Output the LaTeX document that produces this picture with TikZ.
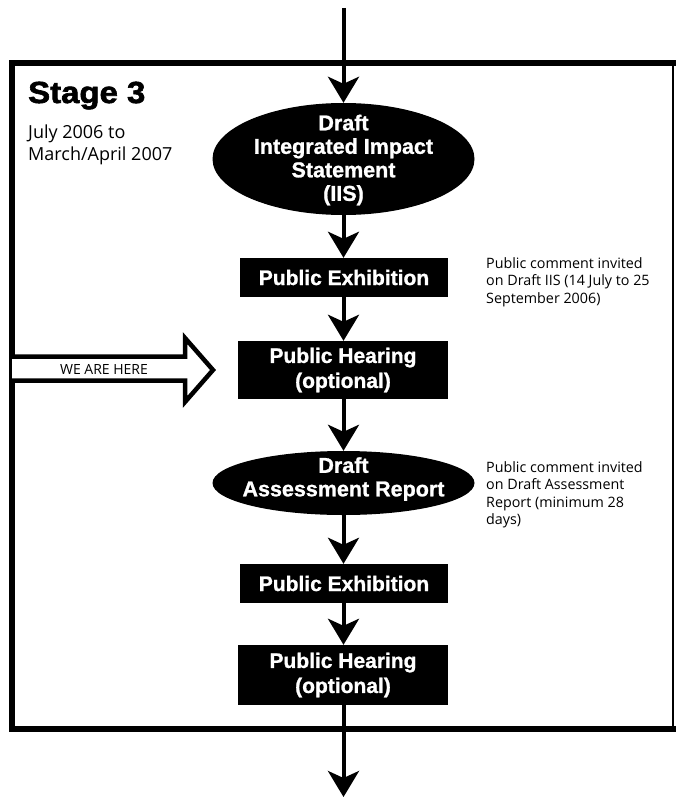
\documentclass[tikz,border=0pt]{standalone}
\usepackage{fontspec}
\setmainfont{Open Sans}
\newfontfamily\boxfont{Liberation Sans}[BoldFeatures={FakeBold=1.1}]
\newfontfamily\stagefont{Liberation Sans}[BoldFeatures={FakeBold=2,FakeStretch=1.08}]
\usetikzlibrary{arrows.meta,shapes.geometric}
\begin{document}
\begin{tikzpicture}[x=1pt,y=-1pt,
  flow/.style={line width=4pt,-{Stealth[length=26pt,width=31pt,inset=7pt]}},
  blackbox/.style={rectangle,fill=black,text=white,inner sep=0pt,align=center,
    font=\boxfont\bfseries\fontsize{21}{25}\selectfont},
  blackoval/.style={ellipse,fill=black,inner sep=0pt},
  ovaltext/.style={text=white,inner sep=0pt,align=center,
    font=\boxfont\bfseries\fontsize{21.5}{23.5}\selectfont},
  sidenote/.style={anchor=north west,inner sep=0pt,align=left,
    font=\fontsize{14.3}{17.5}\selectfont},
  framethin/.style={line width=1.5pt},
  framethick/.style={line width=5.5pt,line cap=rect},
  herearrow/.style={line width=4.5pt,fill=white,line join=miter}]
\useasboundingbox (0,0) rectangle (675,800);

% frame
\draw[framethin] (12,63) rectangle (673,729);
\draw[framethick] (12,729) -- (12,63) -- (673,63);
\draw[framethick] (12,729) -- (673,729);

% title and dates
\node[anchor=base west,inner sep=0pt,font=\stagefont\bfseries\fontsize{30.5}{30}\selectfont] (title) at (28,103) {Stage 3};
\node[anchor=north west,inner sep=0pt,align=left,font=\fontsize{18}{22}\selectfont] (dates) at (28,125) {July 2006 to\\March/April 2007};

% flow nodes
\node[blackoval,minimum width=262pt,minimum height=112pt] (e1) at (343.5,159) {};
\node[ovaltext] (e1t) at (343.5,160) {Draft\\Integrated Impact\\Statement\\(IIS)};

\node[blackbox,minimum width=208pt,minimum height=39pt] (b1) at (344,277.5) {Public Exhibition};
\node[blackbox,minimum width=210pt,minimum height=58pt] (b2) at (343,370) {Public Hearing\\(optional)};

\node[blackoval,minimum width=262pt,minimum height=64pt] (e2) at (343.5,483) {};
\node[ovaltext] (e2t) at (343.5,479) {Draft\\Assessment Report};

\node[blackbox,minimum width=208pt,minimum height=39pt] (b3) at (344,583.5) {Public Exhibition};
\node[blackbox,minimum width=210pt,minimum height=60pt] (b4) at (343,675) {Public Hearing\\(optional)};

% connectors
\coordinate (start) at (343.5,8);
\coordinate (finish) at (343.5,797);
\draw[flow] (start) -- (e1.north);
\draw[flow] (e1.south) -- (e1.south |- b1.north);
\draw[flow] (b1.south -| e1.south) -- (e1.south |- b2.north);
\draw[flow] (b2.south -| e1.south) -- (e2.north);
\draw[flow] (e2.south) -- (e2.south |- b3.north);
\draw[flow] (b3.south -| e2.south) -- (e2.south |- b4.north);
\draw[flow] (b4.south -| e2.south) -- (finish);

% side notes
\node[sidenote] (n1) at (486,257) {Public comment invited\\on Draft IIS (14 July to 25\\September 2006)};
\node[sidenote] (n2) at (486,461) {Public comment invited\\on Draft Assessment\\Report (minimum 28\\days)};

% we are here arrow
\draw[herearrow] (12,356.5) -- (185,356.5) -- (185,338) -- (213,370) -- (185,402) -- (185,380.5) -- (12,380.5);
\node[inner sep=0pt,font=\fontsize{14}{16}\selectfont] (here) at (104,369) {WE ARE HERE};
\end{tikzpicture}
\end{document}
